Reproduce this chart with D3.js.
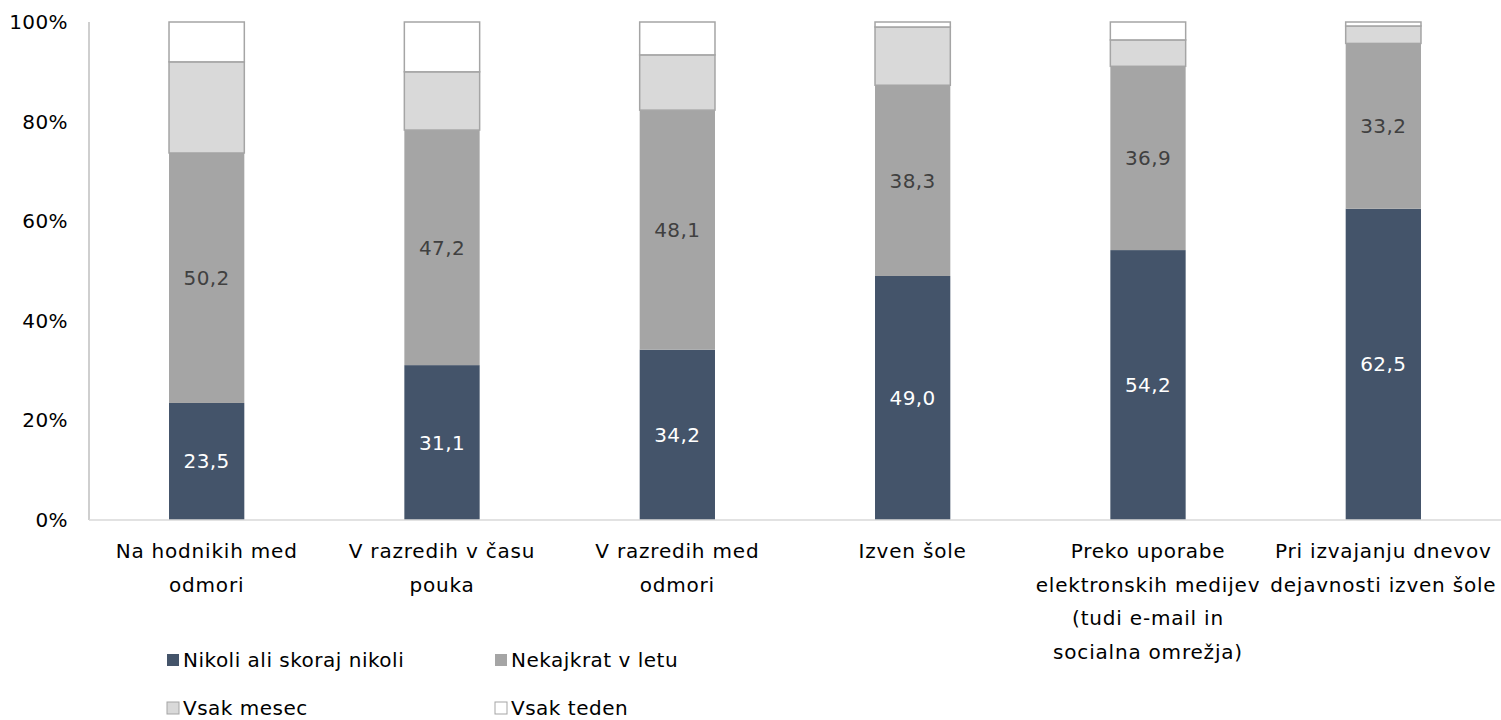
<!DOCTYPE html>
<html>
<head>
<meta charset="utf-8">
<style>
  body { margin: 0; background: #fff; }
  text { font-family: "DejaVu Sans", "Liberation Sans", sans-serif; }
</style>
</head>
<body>
<svg width="1501" height="720"></svg>
<script src="https://d3js.org/d3.v7.min.js"></script>
<script>

var categories = [
    ["Na hodnikih med", "odmori"],
    ["V razredih v času", "pouka"],
    ["V razredih med", "odmori"],
    ["Izven šole"],
    ["Preko uporabe", "elektronskih medijev", "(tudi e-mail in", "socialna omrežja)"],
    ["Pri izvajanju dnevov", "dejavnosti izven šole"]
];
var seriesNames = ["Nikoli ali skoraj nikoli", "Nekajkrat v letu", "Vsak mesec", "Vsak teden"];
var nikoli   = [23.5, 31.1, 34.2, 49.0, 54.2, 62.5];
var nekajkrat = [50.2, 47.2, 48.1, 38.3, 36.9, 33.2];
var mesec    = [18.3, 11.7, 11.1, 11.7, 5.3, 3.5];
var teden    = [8.0, 10.0, 6.6, 1.0, 3.6, 0.8];
var yTicks = [0, 20, 40, 60, 80, 100];

var colors = ["#44546a", "#a5a5a5", "#d9d9d9", "#ffffff"];

var svg = d3.select("svg"),
    margin = {top: 22, right: 0, bottom: 200, left: 89},
    width = +svg.attr("width") - margin.left - margin.right,
    height = +svg.attr("height") - margin.top - margin.bottom,
    g = svg.append("g").attr("transform", "translate(" + margin.left + "," + margin.top + ")");

var rows = categories.map(function(c, i) {
    return {i: i, s0: nikoli[i], s1: nekajkrat[i], s2: mesec[i], s3: teden[i]};
});
var stack = d3.stack().keys(["s0", "s1", "s2", "s3"]).offset(d3.stackOffsetExpand);
var layers = stack(rows);

var x = d3.scaleBand()
    .domain(d3.range(categories.length))
    .range([0, width])
    .paddingInner(0.68)
    .paddingOuter(0.34);

var y = d3.scaleLinear()
    .domain([0, 1])
    .range([height, 0]);

// axes lines
g.append("line")
    .attr("x1", 0).attr("x2", 0)
    .attr("y1", 0).attr("y2", height)
    .attr("stroke", "#bfbfbf").attr("stroke-width", 1.5);

g.selectAll(".ytick")
    .data(yTicks)
    .enter().append("text")
    .attr("x", -21)
    .attr("y", function(d) { return y(d / 100); })
    .attr("dy", "0.35em")
    .attr("text-anchor", "end")
    .style("font-size", "20px")
    .style("letter-spacing", "0.4px")
    .attr("fill", "#000")
    .text(function(d) { return d + "%"; });

var layer = g.selectAll(".layer")
    .data(layers)
    .enter().append("g")
    .attr("fill", function(d, i) { return colors[i]; });

layer.selectAll("rect")
    .data(function(d) { return d.map(function(p) { return {p: p, k: d.index}; }); })
    .enter().append("rect")
    .attr("x", function(d) { return x(d.p.data.i); })
    .attr("width", x.bandwidth())
    .attr("y", function(d) { return y(d.p[1]); })
    .attr("height", function(d) { return y(d.p[0]) - y(d.p[1]); })
    .attr("stroke", function(d) { return d.k >= 2 ? "#a5a5a5" : "none"; })
    .attr("stroke-width", function(d) { return d.k >= 2 ? 1.5 : 0; });

g.append("line")
    .attr("x1", 0).attr("x2", width)
    .attr("y1", height).attr("y2", height)
    .attr("stroke", "#d9d9d9").attr("stroke-width", 1.5);

// data labels for first two series
[0, 1].forEach(function(k) {
    g.selectAll(".lbl" + k)
        .data(layers[k])
        .enter().append("text")
        .attr("x", function(d) { return x(d.data.i) + x.bandwidth() / 2; })
        .attr("y", function(d) { return (y(d[0]) + y(d[1])) / 2; })
        .attr("dy", "0.35em")
        .attr("text-anchor", "middle")
        .style("font-size", "20px")
        .style("letter-spacing", "0.4px")
        .attr("fill", k === 0 ? "#ffffff" : "#404040")
        .text(function(d) { return d3.format(".1f")(k === 0 ? d.data.s0 : d.data.s1).replace(".", ","); });
});

// category labels
var cat = g.selectAll(".cat")
    .data(categories)
    .enter().append("text")
    .attr("text-anchor", "middle")
    .style("font-size", "20px")
    .style("letter-spacing", "0.8px")
    .attr("fill", "#000")
    .attr("transform", function(d, i) { return "translate(" + (x(i) + x.bandwidth() / 2) + "," + (height + 38) + ")"; });

cat.selectAll("tspan")
    .data(function(d) { return d; })
    .enter().append("tspan")
    .attr("x", 0)
    .attr("y", function(d, j) { return j * 33.5; })
    .text(function(d) { return d; });

// legend
var legend = svg.append("g").attr("class", "legend");
var legPos = [[167, 660], [495, 660], [167, 708], [495, 708]];
seriesNames.forEach(function(name, i) {
    var lg = legend.append("g").attr("transform", "translate(" + legPos[i][0] + "," + legPos[i][1] + ")");
    lg.append("rect")
        .attr("x", 0).attr("y", -6)
        .attr("width", 12).attr("height", 12)
        .attr("fill", colors[i])
        .attr("stroke", i >= 2 ? "#a5a5a5" : "none");
    lg.append("text")
        .attr("x", 16)
        .attr("dy", "0.35em")
        .style("font-size", "20px")
        .style("letter-spacing", "0.5px")
        .attr("fill", "#000")
        .text(name);
});

</script>
</body>
</html>
